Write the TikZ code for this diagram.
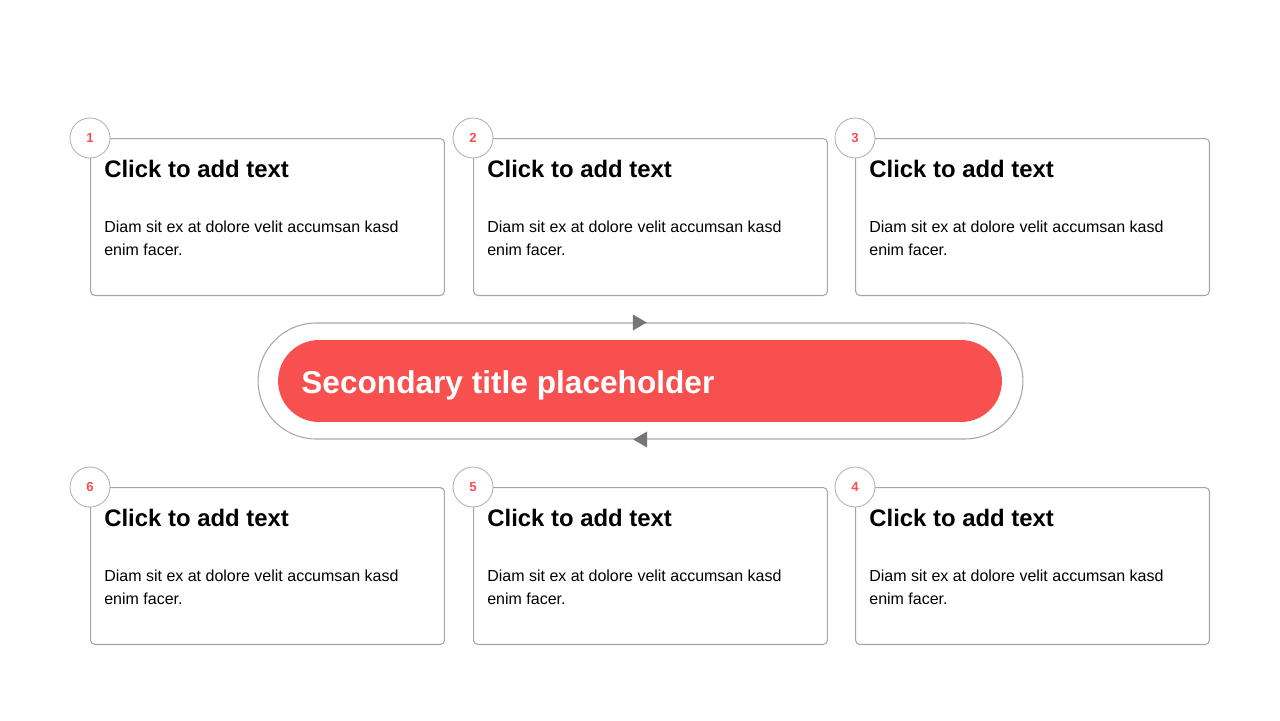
\documentclass[tikz,border=0pt]{standalone}
\usepackage{fontspec}
\setmainfont{Liberation Sans}
\usetikzlibrary{positioning,calc,shapes.misc,shapes.geometric}
\definecolor{SlideRed}{HTML}{F84F4F}
\definecolor{SlideLine}{HTML}{A6A6A6}
\definecolor{SlideArrow}{HTML}{767676}

\begin{document}
\begin{tikzpicture}[x=0.02cm,y=-0.02cm,
    card/.style={draw=SlideLine,line width=0.6pt,rounded corners=2.5pt,
      minimum width=7.08cm,minimum height=3.14cm,anchor=north west,inner sep=0pt},
    badge/.style={circle,draw=SlideLine!85,fill=white,line width=0.5pt,
      minimum size=0.8cm,inner sep=0pt,text=SlideRed,font=\fontsize{7.5}{8}\selectfont\bfseries},
    head/.style={anchor=base west,inner sep=0pt,font=\fontsize{13.6}{16}\selectfont\bfseries},
    body/.style={anchor=base west,inner sep=0pt,align=left,font=\fontsize{9.1}{12.8}\selectfont},
    track/.style={rounded rectangle,draw=SlideLine,line width=0.6pt,
      minimum width=15.3cm,minimum height=2.32cm,inner sep=0pt},
    pill/.style={rounded rectangle,fill=SlideRed,minimum width=14.48cm,
      minimum height=1.64cm,inner sep=0pt},
    arrowtri/.style={isosceles triangle,isosceles triangle apex angle=60,
      fill=SlideArrow,inner sep=0pt,minimum size=0.28cm,anchor=apex}]
  \useasboundingbox (0,0) rectangle (1280,720);
  % centre loop with its two arrows
  \node[track] (track) at (640.5,381) {};
  \node[arrowtri,shape border rotate=0] (arrtop) at ($(track.north)+(7,0)$) {};
  \node[arrowtri,shape border rotate=180] (arrbot) at ($(track.south)+(-8,0)$) {};
  % title pill
  \node[pill] (pill) at (640,381) {};
  \node[anchor=base west,inner sep=0pt,text=white,
    font=\fontsize{18}{20}\selectfont\bfseries] (title) at (301,393)
    {Secondary title placeholder};
  % six cards, numbered round the loop
  \foreach \n/\x/\y in {1/90/138, 2/473/138, 3/855/138, 6/90/487, 5/473/487, 4/855/487} {
    \node[card] (card\n) at (\x,\y) {};
    \node[head] (head\n) at (\x+14,\y+39) {Click to add text};
    \node[body] (body\n) at (\x+14,\y+117) {Diam sit ex at dolore velit accumsan kasd\\enim facer.};
    \node[badge] (badge\n) at (card\n.north west) {\n};
  }
\end{tikzpicture}
\end{document}
